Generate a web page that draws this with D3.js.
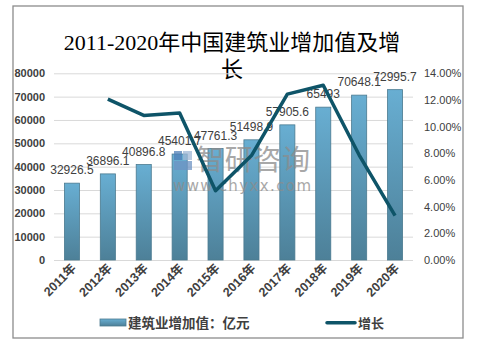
<!DOCTYPE html>
<html><head><meta charset="utf-8">
<script src="https://cdn.jsdelivr.net/npm/d3@7"></script>
<style>html,body{margin:0;padding:0;background:#fff;}svg{display:block;}</style>
</head><body>
<svg id="c" width="483" height="346"></svg>
<script>
const years = ["2011年","2012年","2013年","2014年","2015年","2016年","2017年","2018年","2019年","2020年"];
const valueLabels = ["32926.5","36896.1","40896.8","45401.7","47761.3","51498.9","57905.6","65493","70648.1","72995.7"];
const values = [32926.5,36896.1,40896.8,45401.7,47761.3,51498.9,57905.6,65493,70648.1,72995.7];
const growth = [null,12.06,10.84,11.02,5.20,7.83,12.44,13.10,7.87,3.32];
const leftTicks = [0,10000,20000,30000,40000,50000,60000,70000,80000];
const rightTicks = [0,2,4,6,8,10,12,14];
const titleLines = ["2011-2020年中国建筑业增加值及增","长"];
const legendNames = ["建筑业增加值：亿元","增长"];

const svg = d3.select("#c");
const L = 54, R = 413, T = 73.3, B = 260;
const x = d3.scaleBand().domain(years).range([L, R]).padding(0);
const y = d3.scaleLinear().domain([0, 80000]).range([B, T]);
const y2 = d3.scaleLinear().domain([0, 14]).range([B, T]);

svg.append("rect").attr("x",13).attr("y",6).attr("width",450).attr("height",332)
  .attr("fill","#fff").attr("stroke","#8c8c8c").attr("stroke-width",1.3);

const defs = svg.append("defs");
const g = defs.append("linearGradient").attr("id","bg").attr("x1",0).attr("y1",0).attr("x2",0).attr("y2",1);
g.append("stop").attr("offset","0%").attr("stop-color","#68aed2");
g.append("stop").attr("offset","100%").attr("stop-color","#4d8098");

// title
svg.append("g").selectAll("text").data(titleLines).join("text")
  .attr("x",232).attr("y",(d,i)=>50+i*27).attr("text-anchor","middle")
  .attr("font-family","'Liberation Serif','Noto Sans CJK SC',serif").attr("font-size",22).attr("fill","#000")
  .text(d=>d);

// gridlines
svg.append("g").call(d3.axisLeft(y).tickValues(leftTicks).tickSize(-(R-L)).tickFormat(""))
  .attr("transform",`translate(${L},0)`)
  .call(s=>s.select(".domain").remove())
  .call(s=>s.selectAll("line").attr("stroke","#d9d9d9").attr("stroke-width",1));

// left axis labels
svg.append("g").attr("transform",`translate(${L},0)`)
  .call(d3.axisLeft(y).tickValues(leftTicks).tickSize(0).tickPadding(9).tickFormat(d3.format("d")))
  .call(s=>s.select(".domain").remove())
  .call(s=>s.selectAll("text").attr("font-family","'Liberation Sans',Arial,sans-serif").attr("font-size",11).attr("font-weight","bold").attr("fill","#404040"));

// right axis labels
svg.append("g").attr("transform",`translate(${R},0)`)
  .call(d3.axisRight(y2).tickValues(rightTicks).tickSize(0).tickPadding(11).tickFormat(d=>d3.format(".2f")(d)+"%"))
  .call(s=>s.select(".domain").remove())
  .call(s=>s.selectAll("text").attr("font-family","'Liberation Sans',Arial,sans-serif").attr("font-size",11).attr("fill","#404040"));

// bars
const bw = x.bandwidth()*0.42;
svg.append("g").selectAll("rect").data(values).join("rect")
  .attr("x",(d,i)=>x(years[i])+x.bandwidth()/2-bw/2).attr("width",bw)
  .attr("y",d=>y(d)).attr("height",d=>B-y(d))
  .attr("fill","url(#bg)").attr("stroke","#4b7a90").attr("stroke-width",0.8);

// watermark (above bars)
const wm = svg.append("g").attr("opacity",0.75);
wm.append("rect").attr("x",174).attr("y",151).attr("width",8).attr("height",9).attr("fill","#4f7fb8");
wm.append("rect").attr("x",183).attr("y",151).attr("width",9).attr("height",9).attr("fill","#9fb8d6");
wm.append("rect").attr("x",174).attr("y",161).attr("width",18).attr("height",9).attr("fill","#6e94c4");
wm.append("text").attr("x",196).attr("y",170).attr("font-family","'Noto Sans CJK SC',sans-serif").attr("font-size",28).attr("fill","#8c8c8c").attr("textLength",114).text("智研咨询");
wm.append("text").attr("x",173).attr("y",191).attr("font-family","'DejaVu Sans',sans-serif").attr("font-size",15).attr("fill","#8c8c8c").attr("textLength",138).text("www.chyxx.com");

// bar labels
svg.append("g").selectAll("text").data(values).join("text")
  .attr("x",(d,i)=>x(years[i])+x.bandwidth()/2).attr("y",d=>y(d)-9)
  .attr("text-anchor","middle").attr("font-family","'Liberation Sans',Arial,sans-serif").attr("font-size",12).attr("fill","#404040")
  .text((d,i)=>valueLabels[i]);

// line
const line = d3.line().defined(d=>d.v!=null).x(d=>x(d.k)+x.bandwidth()/2).y(d=>y2(d.v));
svg.append("path").datum(years.map((k,i)=>({k,v:growth[i]})))
  .attr("d",line).attr("fill","none").attr("stroke","#0e5468").attr("stroke-width",3.5).attr("stroke-linejoin","round");

// x labels
svg.append("g").selectAll("text").data(years).join("text")
  .attr("transform",d=>`translate(${x(d)+x.bandwidth()/2+5},${269}) rotate(-45)`)
  .attr("text-anchor","end").attr("font-family","'Liberation Sans','Noto Sans CJK SC',sans-serif").attr("font-size",12.5).attr("font-weight","bold").attr("fill","#404040")
  .text(d=>d);

// legend
svg.append("rect").attr("x",100).attr("y",319).attr("width",26).attr("height",7).attr("fill","url(#bg)").attr("stroke","#4b7a90").attr("stroke-width",0.8);
svg.append("text").attr("x",128).attr("y",328).attr("font-family","'Noto Sans CJK SC',sans-serif").attr("font-size",13.5).attr("font-weight","bold").attr("fill","#404040").text(legendNames[0]);
svg.append("line").attr("x1",327).attr("x2",355).attr("y1",322.7).attr("y2",322.7).attr("stroke","#0e5468").attr("stroke-width",3.5).attr("stroke-linecap","round");
svg.append("text").attr("x",358).attr("y",328).attr("font-family","'Noto Sans CJK SC',sans-serif").attr("font-size",13).attr("font-weight","bold").attr("fill","#404040").text(legendNames[1]);
</script>
</body></html>
